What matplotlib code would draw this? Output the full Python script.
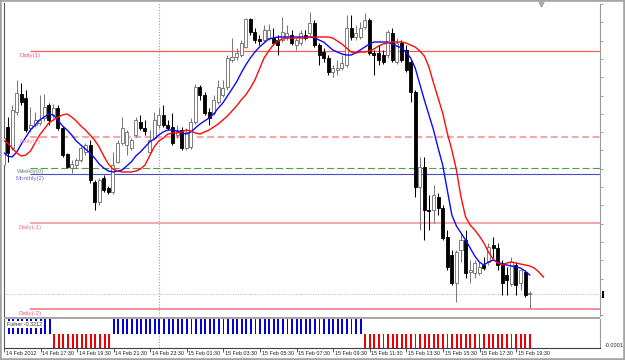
import numpy as np
import matplotlib
matplotlib.use("Agg")
import matplotlib.pyplot as plt
from matplotlib.patches import Rectangle
from matplotlib.lines import Line2D
from matplotlib.transforms import blended_transform_factory

plt.rcParams['font.family'] = ['Liberation Sans', 'DejaVu Sans']

# ---------------- data (prices in pips above 1.2900, 15-min bars from 14 Feb 15:30) ----------------
BASE = 1.2900
PIP = 0.0001

open_pips = [235, 273, 252, 288, 306, 302, 272, 275, 277, 282,
             295, 285, 292, 272, 246, 232, 235, 240, 248, 255,
             218, 198, 222, 212, 208, 238, 257, 255, 252, 265,
             278, 272, 248, 262, 275, 285, 275, 273, 265, 270,
             252, 253, 278, 313, 305, 288, 287, 298, 305, 313,
             340, 343, 345, 353, 381, 368, 361, 360, 362, 362,
             360, 360, 363, 365, 355, 357, 365, 367, 377, 355,
             348, 342, 328, 330, 332, 335, 372, 363, 363, 373,
             380, 347, 347, 345, 345, 367, 338, 357, 350, 338,
             308, 213, 233, 190, 190, 203, 192, 163, 145, 117,
             150, 160, 128, 127, 127, 135, 138, 155, 152, 137,
             125, 116, 135, 117, 128, 106]
high_pips = [282, 283, 295, 320, 317, 310, 293, 288, 305, 306,
             297, 296, 295, 274, 247, 240, 242, 254, 257, 260,
             220, 222, 225, 214, 248, 260, 283, 270, 262, 283,
             285, 280, 270, 288, 292, 295, 280, 287, 275, 273,
             272, 282, 316, 315, 308, 292, 305, 320, 320, 345,
             362, 352, 360, 382, 382, 372, 365, 375, 376, 372,
             365, 383, 375, 370, 362, 370, 370, 388, 380, 357,
             352, 345, 335, 340, 345, 385, 385, 375, 378, 387,
             382, 350, 355, 350, 370, 372, 362, 360, 355, 340,
             310, 243, 243, 205, 215, 207, 195, 170, 150, 150,
             167, 170, 140, 140, 138, 143, 157, 163, 157, 140,
             133, 143, 138, 130, 130, 109]
low_pips = [228, 238, 250, 285, 295, 268, 268, 273, 275, 279,
            275, 282, 270, 243, 232, 227, 232, 238, 245, 217,
            190, 195, 208, 206, 206, 237, 255, 245, 250, 263,
            270, 265, 247, 260, 272, 273, 270, 255, 262, 250,
            250, 251, 276, 300, 285, 275, 285, 296, 303, 310,
            338, 340, 343, 352, 365, 357, 355, 358, 360, 355,
            345, 358, 360, 355, 350, 355, 360, 364, 353, 335,
            338, 325, 323, 325, 330, 333, 360, 360, 361, 371,
            345, 325, 335, 336, 342, 338, 336, 338, 328, 298,
            203, 170, 160, 170, 177, 185, 160, 130, 115, 98,
            138, 122, 117, 122, 125, 130, 135, 142, 130, 105,
            105, 114, 105, 110, 103, 92]
close_pips = [262, 247, 290, 307, 298, 270, 275, 280, 280, 293,
              280, 292, 272, 245, 233, 236, 240, 252, 255, 220,
              198, 220, 210, 208, 235, 257, 272, 268, 260, 280,
              272, 269, 260, 280, 285, 275, 272, 257, 270, 252,
              268, 278, 313, 305, 287, 282, 300, 313, 312, 342,
              343, 347, 357, 381, 368, 360, 359, 370, 370, 357,
              355, 368, 367, 357, 360, 367, 362, 377, 355, 345,
              342, 328, 332, 332, 337, 372, 363, 367, 372, 380,
              347, 345, 340, 338, 368, 340, 357, 340, 330, 308,
              213, 233, 190, 189, 205, 192, 162, 133, 117, 148,
              160, 127, 130, 137, 133, 132, 153, 152, 135, 117,
              120, 138, 115, 130, 105, 107]

ma_fast_pips = [248, 244, 243, 248, 256, 263, 270, 275, 280, 283,
                286, 285, 280, 274, 270, 265, 259, 255, 251, 247,
                242, 236, 232, 229, 228, 229, 230, 234, 238, 244,
                248, 253, 258, 261, 265, 268, 270, 270, 269, 267,
                266, 268, 272, 276, 279, 282, 286, 292, 297, 304,
                311, 318, 327, 335, 342, 348, 353, 357, 361, 362,
                363, 363, 363, 363, 363, 363, 363, 363, 362, 360,
                358, 354, 350, 348, 346, 345, 345, 347, 350, 353,
                356, 358, 358, 358, 358, 356, 354, 352, 348, 342,
                332, 316, 300, 285, 270, 252, 235, 210, 185, 174,
                167, 160, 152, 144, 138, 135, 138, 140, 138, 136,
                135, 134, 133, 132, 129, 125]
# slow MA is drawn with a forward shift, so it runs 3 bars past the last candle
ma_slow_pips = [260, 257, 252, 247, 244, 245, 249, 257, 265, 271,
                277, 280, 283, 285, 286, 283, 279, 274, 270, 265,
                260, 253, 244, 236, 231, 229, 228, 228, 228, 229,
                231, 235, 244, 253, 259, 262, 266, 267, 267, 268,
                270, 269, 267, 266, 268, 270, 273, 276, 280, 284,
                289, 294, 300, 305, 312, 320, 331, 342, 349, 355,
                359, 361, 362, 362, 362, 362, 362, 363, 363, 363,
                363, 363, 362, 359, 356, 352, 348, 347, 348, 348,
                349, 351, 354, 356, 357, 358, 358, 358, 357, 355,
                353, 349, 344, 333, 317, 302, 287, 267, 250, 230,
                203, 183, 175, 170, 164, 157, 148, 141, 137, 135,
                137, 138, 137, 136, 135, 134, 132, 128, 123]

# Fisher histogram sign per bar (+1 blue, -1 red); all bars are clipped by the panel
fisher_sign = [
    1, 1, 1, 1, 1, 1, 1, 1, 1, 1,
    1, -1, -1, -1, -1, -1, -1, -1, -1, -1,
    -1, -1, -1, -1, 1, 1, 1, 1, 1, 1,
    1, 1, 1, 1, 1, 1, 1, 1, 1, 1,
    1, 1, 1, 1, 1, 1, 1, 1, 1, 1,
    1, 1, 1, 1, 1, 1, 1, 1, 1, 1,
    1, 1, 1, 1, 1, 1, 1, 1, 1, 1,
    1, 1, 1, 1, 1, 1, 1, 1, 1, -1,
    -1, -1, -1, -1, -1, -1, -1, -1, -1, -1,
    -1, -1, -1, -1, -1, -1, -1, -1, -1, -1,
    -1, -1, -1, -1, -1, -1, -1, -1, -1, -1,
    -1, -1, -1, -1, -1, -1]
fisher_label = "Fisher -0.3212"

level_names = ["Daily(1)", "Daily(2)", "Weekly(0)", "Monthly(2)", "Daily(-1)", "Daily(-2)"]
level_pips = [349, 263, 232, 226, 177, 91]
level_start_bar = 6
bid_pips = 106

time_tick_bars = [0, 8, 16, 24, 32, 40, 48, 56, 64, 72, 80, 88, 96, 104, 112]
time_tick_labels = ["14 Feb 2012", "14 Feb 17:30", "14 Feb 19:30", "14 Feb 21:30",
                    "14 Feb 23:30", "15 Feb 01:30", "15 Feb 03:30", "15 Feb 05:30",
                    "15 Feb 07:30", "15 Feb 09:30", "15 Feb 11:30", "15 Feb 13:30",
                    "15 Feb 15:30", "15 Feb 17:30", "15 Feb 19:30"]
day_separator_bar = 34

# ---------------- conversions ----------------
def px(v):
    return BASE + np.asarray(v, dtype=float) * PIP

o = px(open_pips); h = px(high_pips); l = px(low_pips); c = px(close_pips)
fast = px(ma_fast_pips); slow = px(ma_slow_pips)
n = len(o)
xb = np.arange(n)

# ---------------- layout (pixel based) ----------------
W, H = 625, 360
BAR_PX = 4.58
FIRST_BAR_PX = 3.0
AX_L, AX_R = 4, 600
MAIN_T, MAIN_B = 3, 316
IND_T, IND_B = 319, 348

def fxp(p):
    return p / W

def fyp(p):
    return 1 - p / H

fig = plt.figure(figsize=(W / 100, H / 100), dpi=100)
fig.patch.set_facecolor('white')

ax = fig.add_axes([fxp(AX_L), fyp(MAIN_B), (AX_R - AX_L) / W, (MAIN_B - MAIN_T) / H])
ax2 = fig.add_axes([fxp(AX_L), fyp(IND_B), (AX_R - AX_L) / W, (IND_B - IND_T) / H])

xmin = (AX_L - FIRST_BAR_PX) / BAR_PX
xmax = xmin + (AX_R - AX_L) / BAR_PX
for a in (ax, ax2):
    a.set_xlim(xmin, xmax)
    a.set_facecolor('white')

# main price scale: 1 pip per pixel
ax.set_ylim(px(400 - MAIN_B), px(400 - MAIN_T))

# ---------------- level lines ----------------
lvl_style = {
    "Daily(1)":   dict(color='#ff5a5a', lw=0.9, ls='-', tc='#ec5a80'),
    "Daily(2)":   dict(color='#f6a8a8', lw=1.5, ls=(0, (3.3, 1.7)), tc='#ee8aa0'),
    "Weekly(0)":  dict(color='#4ea04e', lw=0.8, ls=(0, (6.5, 2.7)), tc='#6a8a6a'),
    "Monthly(2)": dict(color='#4a4ac4', lw=0.8, ls='-', tc='#7070c8'),
    "Daily(-1)":  dict(color='#f6a4ac', lw=1.4, ls='-', tc='#ee7090'),
    "Daily(-2)":  dict(color='#f27890', lw=1.2, ls='-', tc='#ee6088'),
}
for name, lv in zip(level_names, level_pips):
    st = lvl_style[name]
    ax.hlines(px(lv), level_start_bar, xmax, colors=st['color'], lw=st['lw'],
              linestyles=[st['ls']], zorder=1.5)
    ax.annotate(name, xy=(level_start_bar, px(lv)), xytext=(0, -1.5),
                textcoords='offset pixels', ha='center', va='top',
                fontsize=4.4, color=st['tc'], zorder=5)

# bid line and day separator
ax.axhline(px(bid_pips), color='#b8b8b8', lw=0.7, ls=(0, (1, 1.5)), zorder=1)
for a in (ax, ax2):
    a.axvline(day_separator_bar, color='#a0a0a0', lw=0.8, ls=(0, (1, 1.5)), zorder=1)

# ---------------- candles ----------------
up = c >= o
wick_col = np.where(up, '#7a7a7a', '#000000')
ax.vlines(xb, l, h, colors=wick_col, lw=0.75, zorder=2)
body_h = np.maximum(np.abs(c - o), 0.3 * PIP)
ax.bar(xb, body_h, bottom=np.minimum(o, c), width=0.66,
       color=np.where(up, '#ffffff', '#000000'),
       edgecolor=np.where(up, '#6a6a6a', '#000000'), linewidth=0.6, zorder=3)

# ---------------- moving averages ----------------
ax.plot(np.arange(len(fast)), fast, color='#0a0aff', lw=1.0, zorder=4, solid_joinstyle='round')
ax.plot(np.arange(len(slow)), slow, color='#ff0a0a', lw=1.0, zorder=4, solid_joinstyle='round')

# main axes cosmetics
ax.set_xticks([])
ax.yaxis.tick_right()
ax.set_yticks(px(np.arange(396, 84, -18.3)))
ax.tick_params(axis='y', length=2.5, width=0.6, color='#909090', labelright=False, direction='out')
for s in ('top', 'bottom'):
    ax.spines[s].set_visible(False)
ax.spines['left'].set_color('#5a5a5a')
ax.spines['left'].set_linewidth(0.8)
ax.spines['right'].set_color('#9a9a9a')
ax.spines['right'].set_linestyle((0, (1, 1)))
ax.spines['right'].set_linewidth(0.8)

# ---------------- Fisher panel ----------------
fs = np.asarray(fisher_sign, dtype=float)
ax2.bar(xb, fs, width=0.42, color=np.where(fs > 0, '#0000e6', '#ee0000'), zorder=2)
ax2.set_ylim(-1.0, 1.0)
ax2.set_yticks([])
ax2.text(0.65, 0.9, fisher_label, transform=blended_transform_factory(ax2.transData, ax2.transAxes),
         ha='left', va='top', fontsize=3.9, color='#303030', zorder=6,
         bbox=dict(facecolor='white', edgecolor='none', pad=0.6))
ax2.set_xticks(time_tick_bars)
ax2.tick_params(axis='x', length=3, width=0.6, color='#404040', labelbottom=False, direction='out')
ax2.spines['top'].set_visible(False)
ax2.spines['left'].set_color('#5a5a5a')
ax2.spines['left'].set_linewidth(0.8)
ax2.spines['bottom'].set_color('#404040')
ax2.spines['bottom'].set_linewidth(0.8)
ax2.spines['right'].set_color('#9a9a9a')
ax2.spines['right'].set_linestyle((0, (1, 1)))
ax2.spines['right'].set_linewidth(0.8)

trans = blended_transform_factory(ax2.transData, fig.transFigure)
for b, lab in zip(time_tick_bars, time_tick_labels):
    ax2.text(b + 0.35, fyp(351), lab, transform=trans, ha='left', va='top',
             fontsize=3.9, color='#202020', clip_on=False)

fig.text(fxp(605), fyp(345.5), "-0.0001", ha='left', va='center', fontsize=3.9, color='#202020')

# separator between panels
fig.add_artist(Rectangle((fxp(AX_L), fyp(319)), (AX_R - AX_L) / W, 2.5 / H,
                         transform=fig.transFigure, facecolor='#a8a8a8', edgecolor='none'))
# bid price marker stub on the price scale
fig.add_artist(Rectangle((fxp(601.5), fyp(297.5)), 2.5 / W, 7 / H,
                         transform=fig.transFigure, facecolor='#000000', edgecolor='none'))
# chart shift marker
fig.add_artist(Line2D([fxp(540.5)], [fyp(3.5)], marker='v', color='#a8a8a8', ms=3.5,
                      transform=fig.transFigure, linestyle='none'))
# outer window frame
fig.add_artist(Rectangle((0, 0), 1, 1, transform=fig.transFigure, fill=False,
                         edgecolor='#a4a4a4', lw=2.6))

fig.savefig("out.png", dpi=100, facecolor='white')
